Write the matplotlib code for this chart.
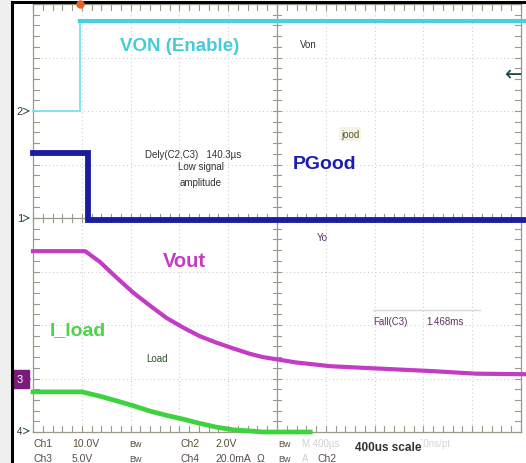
import matplotlib
matplotlib.use("Agg")
import matplotlib.pyplot as plt
from matplotlib.patches import Rectangle

plt.rcParams['font.family'] = ['Liberation Sans', 'DejaVu Sans']

# graticule: 10 x 8 divisions, values below are in divisions
# (t from left edge of screen, v from bottom of screen)
von_t = [0.0, 0.96, 0.96, 10.1]
von_v = [6.0, 6.0, 7.68, 7.68]

pgood_t = [0.0, 1.13, 1.13, 10.1]
pgood_v = [5.21, 5.21, 3.96, 3.96]

vout_t = [0.0, 1.07, 1.37, 1.72, 2.06, 2.40, 2.74, 3.08, 3.42, 3.76, 4.11, 4.45,
          4.71, 5.39, 6.09, 6.76, 7.44, 8.14, 9.08, 10.1]
vout_v = [3.38, 3.38, 3.18, 2.88, 2.60, 2.36, 2.13, 1.95, 1.79, 1.67, 1.56, 1.46,
          1.40, 1.30, 1.23, 1.20, 1.17, 1.14, 1.09, 1.08]

iload_t = [0.0, 1.00, 1.37, 1.72, 2.06, 2.40, 2.74, 3.08, 3.42, 3.76, 4.11, 4.45, 4.71, 5.68]
iload_v = [0.75, 0.75, 0.67, 0.58, 0.49, 0.39, 0.31, 0.24, 0.16, 0.09, 0.04, 0.02, 0.0, 0.0]

row1 = [("Ch1", 0.0), ("10.0V", 0.80), ("Bw", 1.97), ("Ch2", 3.03), ("2.0V", 3.73), ("Bw", 5.02)]
row2 = [("Ch3", 0.0), ("5.0V", 0.80), ("Bw", 1.97), ("Ch4", 3.03), ("20.0mA", 3.73),
        ("\u03a9", 4.59), ("Bw", 5.02), ("Ch2", 5.84)]

W, H = 526, 464
px_t, px_v = 48.8, 53.5   # pixels per division
x0, y0 = 33, 433          # screen origin in pixels

fig = plt.figure(figsize=(W / 100, H / 100), dpi=100)
ax = fig.add_axes([0, 0, 1, 1])
ax.set_xlim(-x0 / px_t, (W - x0) / px_t)
ax.set_ylim(-(H - y0) / px_v, 8 + (y0 - 428) / px_v)
ax.axis('off')

# left margin and black frame
ax.add_patch(Rectangle((ax.get_xlim()[0], ax.get_ylim()[0]), 11 / px_t, 10, color='#efefef', zorder=0))
xl = ax.get_xlim()[0] + 11.5 / px_t
yt = ax.get_ylim()[1] - 3 / px_v
ax.plot([xl, xl], [ax.get_ylim()[0], yt], color='black', lw=2.2, zorder=6)
ax.plot([xl, 10.2], [yt, yt], color='black', lw=2.2, zorder=6)

# graticule dotted lines
grid_c = '#cfcfcf'
for i in range(1, 10):
    ax.plot([i, i], [0, 8], color=grid_c, lw=0.8, ls=(0, (1, 2.5)), zorder=1)
for j in range(1, 8):
    ax.plot([0, 10], [j, j], color=grid_c, lw=0.8, ls=(0, (1, 2.5)), zorder=1)

# rulers with minor ticks
rc = '#9a9a8a'
ax.plot([5, 5], [0, 8], color=rc, lw=0.9, zorder=1)
ax.plot([0, 10], [4, 4], color=rc, lw=0.9, zorder=1)
ax.plot([0, 0], [0, 8], color=rc, lw=0.9, zorder=1)
ax.plot([10, 10], [0, 8], color=rc, lw=0.9, zorder=1)
ax.plot([0, 10], [0, 0], color=rc, lw=0.9, zorder=1)
ax.plot([0, 10], [8, 8], color=rc, lw=0.9, zorder=1)
tl_t, tl_v = 4 / px_t, 4 / px_v
for k in range(0, 51):
    t = k * 0.2
    ax.plot([t, t], [4 - tl_v, 4 + tl_v], color=rc, lw=0.8, zorder=1)
    ax.plot([t, t], [0, 1.6 * tl_v], color=rc, lw=0.8, zorder=1)
    ax.plot([t, t], [8, 8 - 1.6 * tl_v], color=rc, lw=0.8, zorder=1)
for k in range(0, 41):
    v = k * 0.2
    ax.plot([5 - tl_t, 5 + tl_t], [v, v], color=rc, lw=0.8, zorder=1)
    ax.plot([0, 1.6 * tl_t], [v, v], color=rc, lw=0.8, zorder=1)
    ax.plot([10, 10 - 1.6 * tl_t], [v, v], color=rc, lw=0.8, zorder=1)

# traces
ax.plot(von_t[:3], von_v[:3], color='#7fe0e8', lw=1.3, zorder=3)
ax.plot(von_t[2:], von_v[2:], color='#45d2de', lw=3.0, zorder=3)
ax.plot(pgood_t, pgood_v, color='#1c1ca0', lw=4.2, zorder=3, solid_joinstyle='miter')
ax.plot(vout_t, vout_v, color='#c23cc4', lw=3.0, zorder=3, solid_joinstyle='round')
ax.plot(iload_t, iload_v, color='#3ed23e', lw=3.4, zorder=3, solid_joinstyle='round')

# trigger marker
ax.plot([0.96], [8.0], marker='o', ms=5, color='#e8602a', zorder=7, clip_on=False)

# channel markers
ax.text(-0.27, 6.0, "2", color='#333333', fontsize=8, ha='center', va='center')
ax.annotate("", xy=(0.0, 6.0), xytext=(-0.17, 6.0),
            arrowprops=dict(arrowstyle='->', color='#336666', lw=0.8))
ax.text(-0.27, 4.0, "1", color='#333333', fontsize=8, ha='center', va='center')
ax.annotate("", xy=(0.0, 4.0), xytext=(-0.17, 4.0),
            arrowprops=dict(arrowstyle='->', color='#336666', lw=0.8))
ax.add_patch(Rectangle((-0.41, 0.82), 0.33, 0.33, color='#7a1a7a', zorder=5))
ax.text(-0.27, 0.99, "3", color='white', fontsize=8, ha='center', va='center', zorder=6)
ax.annotate("", xy=(0.0, 0.99), xytext=(-0.12, 0.99),
            arrowprops=dict(arrowstyle='->', color='#7a1a7a', lw=0.8))
ax.text(-0.27, 0.02, "4", color='#333333', fontsize=7, ha='center', va='center')
ax.annotate("", xy=(0.0, 0.02), xytext=(-0.17, 0.02),
            arrowprops=dict(arrowstyle='->', color='#336666', lw=0.8))

# annotations
ax.text(3.01, 7.23, "VON (Enable)", color='#45ccd8', fontsize=13.5, fontweight='bold',
        ha='center', va='center', zorder=4)
ax.text(5.47, 7.25, "Von", color='#333333', fontsize=7, ha='left', va='center', zorder=4)
ax.text(2.30, 5.20, "Dely(C2,C3)   140.3\u00b5s", color='#333333', fontsize=7,
        ha='left', va='center', zorder=4)
ax.text(3.44, 4.97, "Low signal", color='#333333', fontsize=7, ha='center', va='center', zorder=4)
ax.text(3.44, 4.67, "amplitude", color='#333333', fontsize=7, ha='center', va='center', zorder=4)
ax.text(6.50, 5.57, "jood", color='#555533', fontsize=7, ha='center', va='center', zorder=4,
        bbox=dict(boxstyle='square,pad=0.2', fc='#f6f4e6', ec='none'))
ax.text(5.97, 5.01, "PGood", color='#1c1cb0', fontsize=14, fontweight='bold',
        ha='center', va='center', zorder=4)
ax.text(5.92, 3.64, "Yo", color='#503070', fontsize=7, ha='center', va='center', zorder=4)
ax.text(3.11, 3.20, "Vout", color='#c23cc4', fontsize=14.5, fontweight='bold',
        ha='center', va='center', zorder=4)
ax.text(0.91, 1.92, "I_load", color='#4cd24c', fontsize=14, fontweight='bold',
        ha='center', va='center', zorder=4)
ax.text(2.54, 1.38, "Load", color='#305030', fontsize=7, ha='center', va='center', zorder=4)
ax.plot([6.97, 9.16], [2.28, 2.28], color='#d8d8d8', lw=1.0, zorder=2)
ax.text(7.32, 2.07, "Fall(C3)", color='#603060', fontsize=7, ha='center', va='center', zorder=4)
ax.text(8.44, 2.07, "1.468ms", color='#603060', fontsize=7, ha='center', va='center', zorder=4)
ax.text(9.85, 6.69, "\u2190", color='#204848', fontsize=15, ha='center', va='center', zorder=4,
        family='DejaVu Sans')

# bottom status rows
for label, t in row1:
    fs = 6.5 if label == "Bw" else 7.5
    ax.text(t, -0.206, label, color='#5a5038', fontsize=fs, ha='left', va='center')
for label, t in row2:
    fs = 6.5 if label == "Bw" else 7.5
    ax.text(t, -0.486, label, color='#5a4a58', fontsize=fs, ha='left', va='center')
ax.text(5.51, -0.206, "M 400\u00b5s", color='#d0d0d0', fontsize=7, ha='left', va='center')
ax.text(7.89, -0.206, "10ns/pt", color='#d4d4d4', fontsize=7, ha='left', va='center')
ax.text(6.60, -0.28, "400us scale", color='#333333', fontsize=8.5, fontweight='bold',
        ha='left', va='center', zorder=5,
        bbox=dict(boxstyle='square,pad=0.1', fc='white', ec='none'))
ax.text(5.51, -0.486, "A", color='#cccccc', fontsize=7, ha='left', va='center')

fig.savefig("out.png", dpi=100)
